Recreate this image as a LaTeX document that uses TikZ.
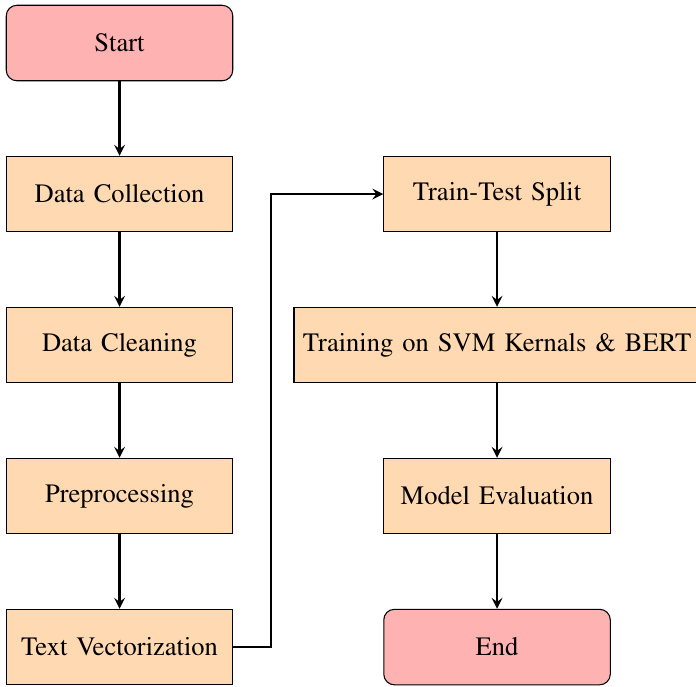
\documentclass[tikz,border=0pt]{standalone}
\usepackage[T1]{fontenc}
\usepackage{mathptmx}
\usetikzlibrary{arrows,positioning}
\begin{document}
\begin{tikzpicture}[
  every node/.style={execute at begin node={\spaceskip=3.4pt\relax}},
  startstop/.style={rectangle, rounded corners, minimum width=3cm, minimum height=1cm, text centered, draw=black, fill=red!30},
  process/.style={rectangle, minimum width=3cm, minimum height=1cm, text centered, draw=black, fill=orange!30},
  arrow/.style={thick,->,>=stealth}
]
\clip (-1.583,0.570) rectangle (7.635,-8.529);
\useasboundingbox (-1.583,0.570) rectangle (7.635,-8.529);
\node (start) [startstop] at (0,0) {Start};
\node (collect) [process] at (0,-2) {Data Collection};
\node (clean) [process] at (0,-4) {Data Cleaning};
\node (pre) [process] at (0,-6) {Preprocessing};
\node (vec) [process] at (0,-8) {Text Vectorization};
\node (split) [process] at (5,-2) {Train-Test Split};
\node (train) [process] at (5,-4) {Training on SVM Kernals \& BERT};
\node (eval) [process] at (5,-6) {Model Evaluation};
\node (stop) [startstop] at (5,-8) {End};
\draw [arrow] (start) -- (collect);
\draw [arrow] (collect) -- (clean);
\draw [arrow] (clean) -- (pre);
\draw [arrow] (pre) -- (vec);
\draw [arrow] (vec.east) -- ++(0.5,0) |- (split.west);
\draw [arrow] (split) -- (train);
\draw [arrow] (train) -- (eval);
\draw [arrow] (eval) -- (stop);
\end{tikzpicture}
\end{document}
